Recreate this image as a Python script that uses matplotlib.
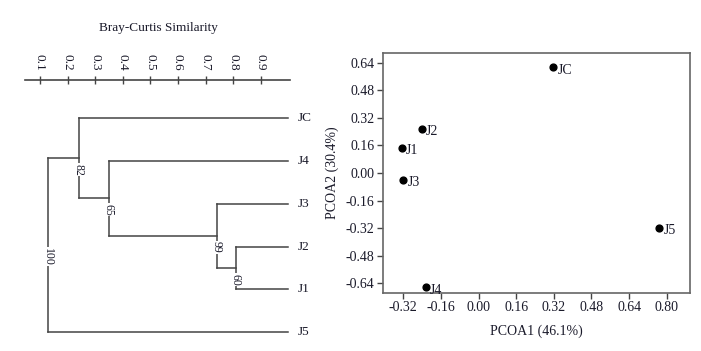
import matplotlib
matplotlib.use("Agg")
import matplotlib.pyplot as plt

plt.rcParams['font.family'] = ['Liberation Serif', 'DejaVu Serif']

# ---- data ----
leaves = ["JC", "J4", "J3", "J2", "J1", "J5"]
# merges: (child_a, child_b, similarity, support); ids >= 6 are merged nodes
merge_a = [3, 2, 1, 0, 9]
merge_b = [4, 6, 7, 8, 5]
merge_sim = [0.81, 0.74, 0.35, 0.24, 0.13]
merge_support = [60, 99, 65, 82, 100]
sim_ticks = [0.1, 0.2, 0.3, 0.4, 0.5, 0.6, 0.7, 0.8, 0.9]

pcoa_names = ["JC", "J2", "J1", "J3", "J5", "J4"]
pcoa1 = [0.318, -0.242, -0.327, -0.320, 0.768, -0.223]
pcoa2 = [0.613, 0.256, 0.144, -0.038, -0.320, -0.663]
pc_ticks = [-0.32, -0.16, 0.00, 0.16, 0.32, 0.48, 0.64, 0.80]
pc_yticks = [0.64, 0.48, 0.32, 0.16, 0.00, -0.16, -0.32, -0.48, -0.64]

W, H = 701, 351
fig = plt.figure(figsize=(W / 100, H / 100), dpi=100)
line_c = "#444444"
txt_c = "#1a1a2a"

# ---- dendrogram ----
axd = fig.add_axes([25 / W, 1 - 345 / H, 265 / W, 265 / H])
pos_y = {i: float(i) for i in range(len(leaves))}
pos_x = {i: 1.0 for i in range(len(leaves))}
for k, (a, b, s, sup) in enumerate(zip(merge_a, merge_b, merge_sim, merge_support)):
    nid = len(leaves) + k
    ya, yb = pos_y[a], pos_y[b]
    axd.plot([s, s], [ya, yb], color=line_c, lw=1.1)
    axd.plot([pos_x[a], s], [ya, ya], color=line_c, lw=1.1)
    axd.plot([pos_x[b], s], [yb, yb], color=line_c, lw=1.1)
    mid = (ya + yb) / 2
    pos_y[nid] = mid
    pos_x[nid] = s
    axd.text(s, mid + 0.27, str(sup), rotation=270, ha='center', va='center',
             fontsize=8.5, color=txt_c,
             bbox=dict(facecolor='white', edgecolor='none', pad=0.3))
for i, name in enumerate(leaves):
    axd.text(1.035, i, name, ha='left', va='center', fontsize=9.5, color=txt_c)

axd.set_xlim(0.0457, 1.006)
axd.set_ylim(5.30, -0.888)
axd.xaxis.tick_top()
axd.set_xticks(sim_ticks)
axd.set_xticklabels([f"{t:.1f}" for t in sim_ticks])
axd.tick_params(axis='x', direction='inout', length=6, width=1, color=line_c,
                labelrotation=270, labelsize=9.5, labelcolor=txt_c, pad=4)
axd.set_yticks([])
for sp in ['left', 'right', 'bottom']:
    axd.spines[sp].set_visible(False)
axd.spines['top'].set_color(line_c)
axd.spines['top'].set_linewidth(1.2)
fig.text(158 / W, 1 - 28 / H, "Bray-Curtis Similarity", ha='center', va='center',
         fontsize=9.5, color=txt_c)

# ---- PCoA ----
axp = fig.add_axes([383 / W, 1 - 293 / H, 307 / W, 240 / H])
axp.scatter(pcoa1, pcoa2, s=24, color='black', zorder=3)
for n, x, y in zip(pcoa_names, pcoa1, pcoa2):
    axp.annotate(n, (x, y), xytext=(3, -2), textcoords='offset points',
                 ha='left', va='center', fontsize=10, color=txt_c)
axp.set_xlim(-0.406, 0.899)
axp.set_ylim(-0.696, 0.696)
axp.set_xticks(pc_ticks)
axp.set_xticklabels([f"{t:.2f}" for t in pc_ticks])
axp.set_yticks(pc_yticks)
axp.set_yticklabels([f"{t:.2f}" for t in pc_yticks])
axp.tick_params(direction='out', length=4, width=1, color=line_c,
                labelsize=10, labelcolor=txt_c, pad=2)
for sp in axp.spines.values():
    sp.set_color("#666666")
    sp.set_linewidth(1.2)
axp.set_xlabel("PCOA1 (46.1%)", fontsize=10, color=txt_c, labelpad=7)
axp.set_ylabel("PCOA2 (30.4%)", fontsize=10, color=txt_c, labelpad=5)

fig.savefig("out.png", dpi=100)
